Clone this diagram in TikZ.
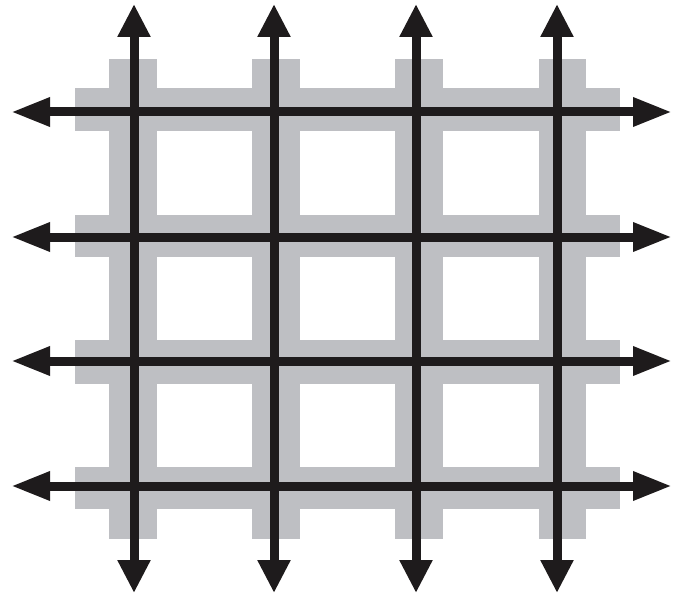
\documentclass[tikz,border=0pt]{standalone}
\usetikzlibrary{arrows.meta}
\definecolor{bandgray}{RGB}{190,191,195}
\definecolor{ink}{RGB}{30,27,28}
\begin{document}
\begin{tikzpicture}[x=1pt,y=-1pt,
  band/.style={fill=bandgray,draw=none},
  varrow/.style={draw=ink,line width=9pt,{Triangle[length=33pt,width=31pt]}-{Triangle[length=33pt,width=31pt]}},
  harrow/.style={draw=ink,line width=9pt,{Triangle[length=39pt,width=27pt]}-{Triangle[length=39pt,width=27pt]}}]
\useasboundingbox (0,0) rectangle (674,596);
% gray bands
\foreach \a/\b in {88/131,215/257,340/384,467/509}
  \fill[band] (75,\a) rectangle (620,\b);
\foreach \a/\b in {109/157,252/300,395/443,539/586}
  \fill[band] (\a,59) rectangle (\b,539);
% endpoints
\foreach \x [count=\i] in {134,274,416,557}{
  \coordinate (t\i) at (\x,4);
  \coordinate (b\i) at (\x,593);
}
\foreach \y [count=\i] in {112,237,361,486}{
  \coordinate (l\i) at (11,\y);
  \coordinate (r\i) at (672,\y);
}
\foreach \i in {1,...,4}{
  \draw[harrow] (l\i) -- (r\i);
}
\foreach \i in {1,...,4}{
  \draw[varrow] (b\i) -- (t\i);
}
\end{tikzpicture}
\end{document}
